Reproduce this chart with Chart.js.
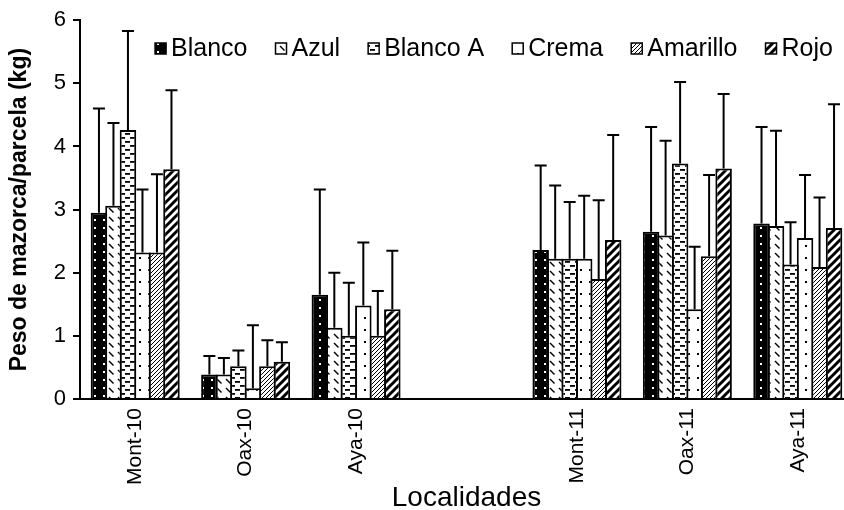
<!DOCTYPE html>
<html lang="es">
<head>
<meta charset="UTF-8">
<title>Peso de mazorca por parcela</title>
<style>
  html, body { margin: 0; padding: 0; background: #fff; overflow: hidden; }
  #grafico { display: block; }
</style>
</head>
<body>
<canvas id="grafico" width="853" height="510"></canvas>
<script src="https://cdn.jsdelivr.net/npm/chart.js"></script>
<script>
// localidades (la cuarta queda vacia, es el hueco entre 2010 y 2011)
const localidades = ['Mont-10', 'Oax-10', 'Aya-10', '', 'Mont-11', 'Oax-11', 'Aya-11'];
const variedades = ['Blanco', 'Azul', 'Blanco A', 'Crema', 'Amarillo', 'Rojo'];

// peso medio de mazorca por parcela (kg)
const blanco   = [2.95, 0.39, 1.65, null, 2.36, 2.65, 2.78];
const azul     = [3.06, 0.39, 1.13, null, 2.22, 2.59, 2.74];
const blancoA  = [4.26, 0.52, 1.00, null, 2.22, 3.73, 2.13];
const crema    = [2.32, 0.17, 1.48, null, 2.22, 1.42, 2.55];
const amarillo = [2.32, 0.52, 1.00, null, 1.90, 2.26, 2.09];
const rojo     = [3.64, 0.59, 1.42, null, 2.52, 3.65, 2.71];

// desviacion (solo se dibuja hacia arriba)
const blancoDE   = [1.65, 0.29, 1.67, null, 1.34, 1.66, 1.53];
const azulDE     = [1.31, 0.26, 0.87, null, 1.16, 1.50, 1.51];
const blancoADE  = [1.57, 0.25, 0.84, null, 0.90, 1.29, 0.67];
const cremaDE    = [1.00, 1.00, 1.00, null, 1.00, 0.99, 1.00];
const amarilloDE = [1.24, 0.41, 0.71, null, 1.25, 1.29, 1.10];
const rojoDE     = [1.25, 0.31, 0.93, null, 1.66, 1.18, 1.96];

const fuente = 'Arial, "Liberation Sans", sans-serif';

// tramas en blanco y negro para cada variedad
function trama(tipo) {
  const c = document.createElement('canvas');
  const g = c.getContext('2d');
  let s = 8;
  if (tipo == 'puntosBlancos') { c.width = 9; c.height = 8; }
  else if (tipo == 'guiones') { c.width = 9; c.height = 9; }
  else if (tipo == 'horizontal') { c.width = 10; c.height = 8; }
  else if (tipo == 'puntos') { c.width = 9; c.height = 12; }
  else if (tipo == 'fino') { s = 4; c.width = s; c.height = s; }
  else { c.width = s; c.height = s; }
  g.fillStyle = '#fff';
  g.fillRect(0, 0, c.width, c.height);
  g.fillStyle = '#000';
  g.strokeStyle = '#000';

  if (tipo == 'puntosBlancos') {
    g.fillRect(0, 0, c.width, c.height);
    g.fillStyle = '#fff';
    g.fillRect(4, 3, 2, 2);
  } else if (tipo == 'guiones') {
    g.lineWidth = 1.4;
    g.beginPath();
    g.moveTo(1, 1);
    g.lineTo(5.5, 5.5);
    g.stroke();
  } else if (tipo == 'horizontal') {
    g.fillRect(0, 1, 5, 1.8);
    g.fillRect(5, 5, 5, 1.8);
  } else if (tipo == 'puntos') {
    g.fillRect(4, 5, 2, 2);
  } else {
    // diagonales "/"
    g.lineWidth = tipo == 'fino' ? 1 : 3;
    g.beginPath();
    for (let k = -1; k <= 1; k++) {
      g.moveTo(k * s - 1, s + 1);
      g.lineTo(k * s + s + 1, -1);
    }
    g.stroke();
  }
  return g.createPattern(c, 'repeat');
}

const ctx = document.getElementById('grafico');

const tramas = {
  'Blanco': trama('puntosBlancos'),
  'Azul': trama('guiones'),
  'Blanco A': trama('horizontal'),
  'Crema': trama('puntos'),
  'Amarillo': trama('fino'),
  'Rojo': trama('grueso')
};

const series = [blanco, azul, blancoA, crema, amarillo, rojo];
const desviaciones = [blancoDE, azulDE, blancoADE, cremaDE, amarilloDE, rojoDE];

const datasets = variedades.map((v, i) => ({
  label: v,
  data: series[i],
  desv: desviaciones[i],
  backgroundColor: tramas[v],
  borderColor: '#000',
  borderWidth: 2,
  barPercentage: 1.138,
  categoryPercentage: 0.788
}));

// barras de error (solo parte superior con su tope)
const barrasError = {
  id: 'barrasError',
  afterDatasetsDraw(chart) {
    const c = chart.ctx;
    const y = chart.scales.y;
    c.save();
    c.strokeStyle = '#000';
    c.lineWidth = 2;
    chart.data.datasets.forEach((ds, i) => {
      chart.getDatasetMeta(i).data.forEach((barra, j) => {
        const v = ds.data[j], de = ds.desv[j];
        if (v == null || de == null) return;
        const arriba = y.getPixelForValue(v + de);
        c.beginPath();
        c.moveTo(barra.x, barra.y);
        c.lineTo(barra.x, arriba);
        c.moveTo(barra.x - 6, arriba);
        c.lineTo(barra.x + 6, arriba);
        c.stroke();
      });
    });
    c.restore();
  }
};

// leyenda dentro del area del grafico, con las tramas
const leyenda = {
  id: 'leyenda',
  afterDraw(chart) {
    const c = chart.ctx;
    const caja = 11, sep = 5, hueco = 28;
    c.save();
    c.font = '25px ' + fuente;
    const anchos = chart.data.datasets.map(d => caja + sep + c.measureText(d.label).width);
    const total = anchos.reduce((a, b) => a + b, 0) + hueco * (anchos.length - 1);
    let x = 494 - total / 2;
    chart.data.datasets.forEach((d, i) => {
      c.fillStyle = d.backgroundColor;
      c.fillRect(x, 43, caja, caja);
      c.strokeStyle = '#000';
      c.lineWidth = 1.5;
      c.strokeRect(x, 43, caja, caja);
      c.fillStyle = '#000';
      c.textBaseline = 'alphabetic';
      c.fillText(d.label, x + caja + sep, 56);
      x += anchos[i] + hueco;
    });
    c.restore();
  }
};

const grafico = new Chart(ctx, {
  type: 'bar',
  data: {
    labels: localidades,
    datasets: datasets
  },
  options: {
    responsive: false,
    animation: false,
    devicePixelRatio: 1,
    layout: { padding: { top: 20, left: 0, right: 0, bottom: 0 } },
    plugins: {
      legend: { display: false },
      tooltip: { enabled: false }
    },
    scales: {
      x: {
        offset: true,
        grid: { display: false },
        border: { display: true, color: '#000', width: 2 },
        ticks: {
          color: '#000',
          font: { size: 21, family: fuente },
          minRotation: 90,
          maxRotation: 90,
          autoSkip: false,
          padding: 1
        },
        title: {
          display: true,
          text: 'Localidades',
          color: '#000',
          font: { size: 28, family: fuente, lineHeight: 1 },
          padding: { top: 0, bottom: -2 }
        },
        afterFit(s) { s.height = 111; }
      },
      y: {
        min: 0,
        max: 6,
        ticks: {
          stepSize: 1,
          color: '#000',
          font: { size: 22, family: fuente },
          padding: 7
        },
        grid: { drawOnChartArea: false, drawTicks: true, tickLength: 7, color: '#000', lineWidth: 2 },
        border: { color: '#000', width: 2 },
        title: {
          display: true,
          text: 'Peso de mazorca/parcela (kg)',
          color: '#000',
          font: { size: 23, weight: 'bold', family: fuente },
          padding: { top: 6, bottom: 0 }
        },
        afterFit(s) { s.width = 80; }
      }
    }
  },
  plugins: [barrasError, leyenda]
});
</script>
</body>
</html>
